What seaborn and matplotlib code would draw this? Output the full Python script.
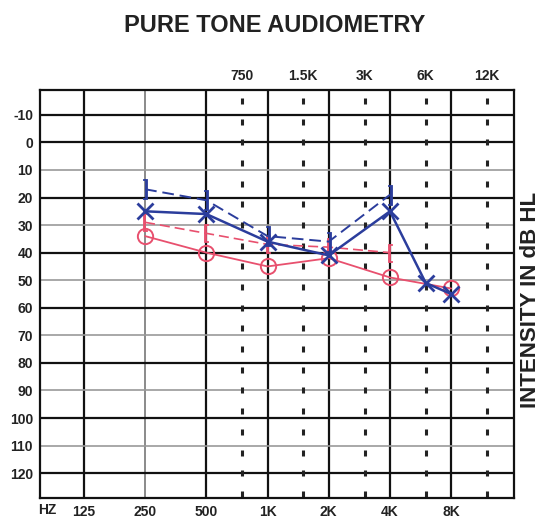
import matplotlib
matplotlib.use('Agg')
import matplotlib.pyplot as plt
import seaborn as sns
import numpy as np
import pandas as pd

sns.set_theme(style="white")
plt.rcParams['font.family'] = ['Liberation Sans', 'DejaVu Sans']

# Frequencies (Hz) and labels
main_freqs = [125, 250, 500, 1000, 2000, 4000, 8000]
main_labels = ['125', '250', '500', '1K', '2K', '4K', '8K']
mid_freqs = [750, 1500, 3000, 6000, 12000]
mid_labels = ['750', '1.5K', '3K', '6K', '12K']
db_ticks = [-10, 0, 10, 20, 30, 40, 50, 60, 70, 80, 90, 100, 110, 120]

# Left ear (blue) air conduction, X symbols
left_air_freq = [250, 500, 1000, 2000, 4000, 6000, 8000]
left_air_db = [25, 26, 36, 41, 25, 51, 55]
# Left ear (blue) bone conduction, dashed
left_bone_freq = [250, 500, 1000, 2000, 4000]
left_bone_db = [17, 21, 34, 36, 19]
# Right ear (red) air conduction, O symbols
right_air_freq = [250, 500, 1000, 2000, 4000, 8000]
right_air_db = [34, 40, 45, 42, 49, 53]
# Right ear (red) bone conduction, dashed
right_bone_freq = [250, 500, 1000, 2000, 4000]
right_bone_db = [29, 33, 37, 38, 40]

blue = '#2b3d9c'
red = '#e8506e'

fig = plt.figure(figsize=(5.45, 5.2), dpi=100)
ax = fig.add_axes([40 / 545, 22 / 520, 474 / 545, 408 / 520])
ax.set_xscale('log', base=2)
ax.set_xlim(76, 16300)
ax.set_ylim(129, -19)

# Grid lines
for f in main_freqs:
    c = '#777777' if f == 250 else '#111111'
    ax.axvline(f, color=c, lw=1.6 if f != 250 else 1.2, zorder=1)
for d in db_ticks:
    if d % 20 == 0 or d == -10:
        ax.axhline(d, color='#111111', lw=1.6, zorder=1)
    else:
        ax.axhline(d, color='#9a9a9a', lw=1.2, zorder=1)

# Dotted intermediate frequency columns
dash_y = np.arange(-15, 128, 7.5)
for f in mid_freqs:
    ax.plot([f] * len(dash_y), dash_y, ls='none', marker='|', ms=5, mew=2.2,
            color='#222222', zorder=1)

# Audiogram traces
right_air = pd.DataFrame({'freq': right_air_freq, 'db': right_air_db})
right_bone = pd.DataFrame({'freq': right_bone_freq, 'db': right_bone_db})
left_air = pd.DataFrame({'freq': left_air_freq, 'db': left_air_db})
left_bone = pd.DataFrame({'freq': left_bone_freq, 'db': left_bone_db})

sns.lineplot(data=right_bone, x='freq', y='db', ax=ax, color=red, lw=1.2,
             linestyle=(0, (6, 3)), marker='$[$', markersize=13,
             markeredgecolor=red, markerfacecolor=red,
             markeredgewidth=0.6, zorder=3)
sns.lineplot(data=right_air, x='freq', y='db', ax=ax, color=red, lw=1.3,
             marker='o', markersize=11, markerfacecolor='none',
             markeredgecolor=red, markeredgewidth=1.4, zorder=3)
sns.lineplot(data=left_bone, x='freq', y='db', ax=ax, color=blue, lw=1.4,
             linestyle=(0, (6, 3)), marker='$]$', markersize=15,
             markeredgecolor=blue, markerfacecolor=blue,
             markeredgewidth=0.6, zorder=4)
sns.lineplot(data=left_air, x='freq', y='db', ax=ax, color=blue, lw=1.8,
             marker='x', markersize=12, markeredgewidth=2,
             markeredgecolor=blue, zorder=4)

# Axes labels and ticks
ax.set_xlabel('')
ax.set_ylabel('')
ax.set_xticks(main_freqs)
ax.set_xticklabels(main_labels, fontsize=10, fontweight='bold', color='#222222')
ax.xaxis.set_minor_locator(matplotlib.ticker.NullLocator())
ax.set_yticks(db_ticks)
ax.set_yticklabels([str(d) for d in db_ticks], fontsize=10, fontweight='bold',
                   color='#222222')
ax.tick_params(axis='both', length=0, pad=5)
ax.text(-0.005, -0.012, 'HZ', transform=ax.transAxes, ha='left', va='top',
        fontsize=10, fontweight='bold', color='#222222')

top = ax.secondary_xaxis('top')
top.set_xticks(mid_freqs)
top.set_xticklabels(mid_labels, fontsize=10, fontweight='bold', color='#222222')
top.xaxis.set_minor_locator(matplotlib.ticker.NullLocator())
top.tick_params(length=0, pad=5)
top.spines['top'].set_visible(False)

for s in ax.spines.values():
    s.set_color('#111111')
    s.set_linewidth(1.6)

fig.text(275 / 545, 1 - 25 / 520, 'PURE TONE AUDIOMETRY', ha='center',
         va='center', fontsize=17, fontweight='bold', color='#222222')
fig.text(530 / 545, 1 - 300 / 520, 'INTENSITY IN dB HL', ha='center',
         va='center', rotation=90, fontsize=16, fontweight='bold',
         color='#222222')

plt.savefig('out.png', dpi=100, facecolor='white')
